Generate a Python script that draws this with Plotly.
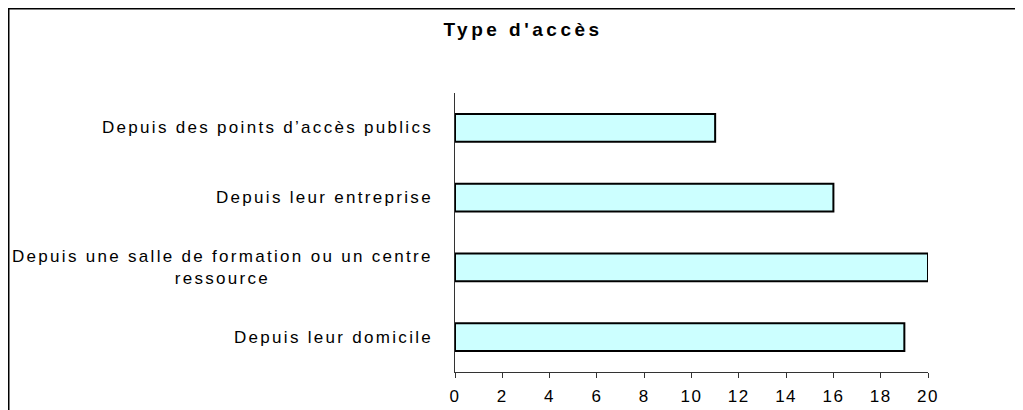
import plotly.graph_objects as go

title_text = "Type d'accès"
categories = [
    "Depuis des points d’accès publics",
    "Depuis leur entreprise",
    "Depuis une salle de formation ou un centre<br>ressource",
    "Depuis leur domicile",
]
values = [11, 16, 20, 19]
tick_vals = [0, 2, 4, 6, 8, 10, 12, 14, 16, 18, 20]
tick_text = [str(v) for v in tick_vals]

FONT = "Liberation Sans, Arial, sans-serif"
LS = "letter-spacing:2.3px"

def spaced(t, ls=LS):
    return "<br>".join(f'<span style="{ls}">{p}</span>' for p in t.split("<br>"))

cat_ids = [f"c{i}" for i in range(len(categories))]

# page has an 8px body margin: figure pixel = page pixel - 8
W, H = 1015, 402
PL, PR, PT, PB = 447, 920, 85, 364

fig = go.Figure()
fig.add_trace(go.Bar(
    x=values, y=cat_ids, orientation="h",
    width=0.4,
    marker=dict(color="#CCFFFF", line=dict(color="#000000", width=2)),
    hoverinfo="x",
))

annotations = []
for cid, lab in zip(cat_ids, categories):
    annotations.append(dict(
        x=0, xref="paper", y=cid, yref="y",
        xanchor="right", yanchor="middle", xshift=-20,
        text=spaced(lab), showarrow=False, align="center",
        font=dict(family=FONT, size=17, color="#000000"),
    ))

pw, ph = PR - PL, PB - PT
fig.update_layout(
    width=W, height=H,
    margin=dict(l=PL, r=W - PR, t=PT, b=H - PB, autoexpand=False),
    paper_bgcolor="white", plot_bgcolor="white",
    showlegend=False,
    title=dict(
        text=f'<span style="letter-spacing:3.5px">{title_text}</span>',
        x=(523 - 8) / W, xref="container", xanchor="center",
        y=1 - 21 / H, yref="container", yanchor="middle",
        font=dict(family=FONT, size=19, color="#000000", weight="bold"),
    ),
    xaxis=dict(
        range=[0, 20], tickvals=tick_vals,
        ticktext=[f'<span style="letter-spacing:1.5px">{t}</span>' for t in tick_text],
        ticks="outside", ticklen=5, tickcolor="#333333", tickwidth=1,
        ticklabelstandoff=4, automargin=False,
        showline=True, linecolor="#333333", linewidth=1,
        showgrid=False, zeroline=False,
        tickfont=dict(family=FONT, size=17, color="#000000"),
    ),
    yaxis=dict(
        categoryorder="array", categoryarray=cat_ids,
        autorange="reversed", automargin=False,
        showticklabels=False, ticks="",
        showline=True, linecolor="#333333", linewidth=1,
        showgrid=False, zeroline=False,
    ),
    annotations=annotations,
    shapes=[dict(
        type="rect", xref="paper", yref="paper",
        x0=(0.75 - PL) / pw, x1=(1012 - PL) / pw,
        y0=(PB - 420) / ph, y1=(PB - 0.75) / ph,
        line=dict(color="#000000", width=1.5), fillcolor="rgba(0,0,0,0)",
        layer="below",
    )],
)

fig.write_html("out.html")
